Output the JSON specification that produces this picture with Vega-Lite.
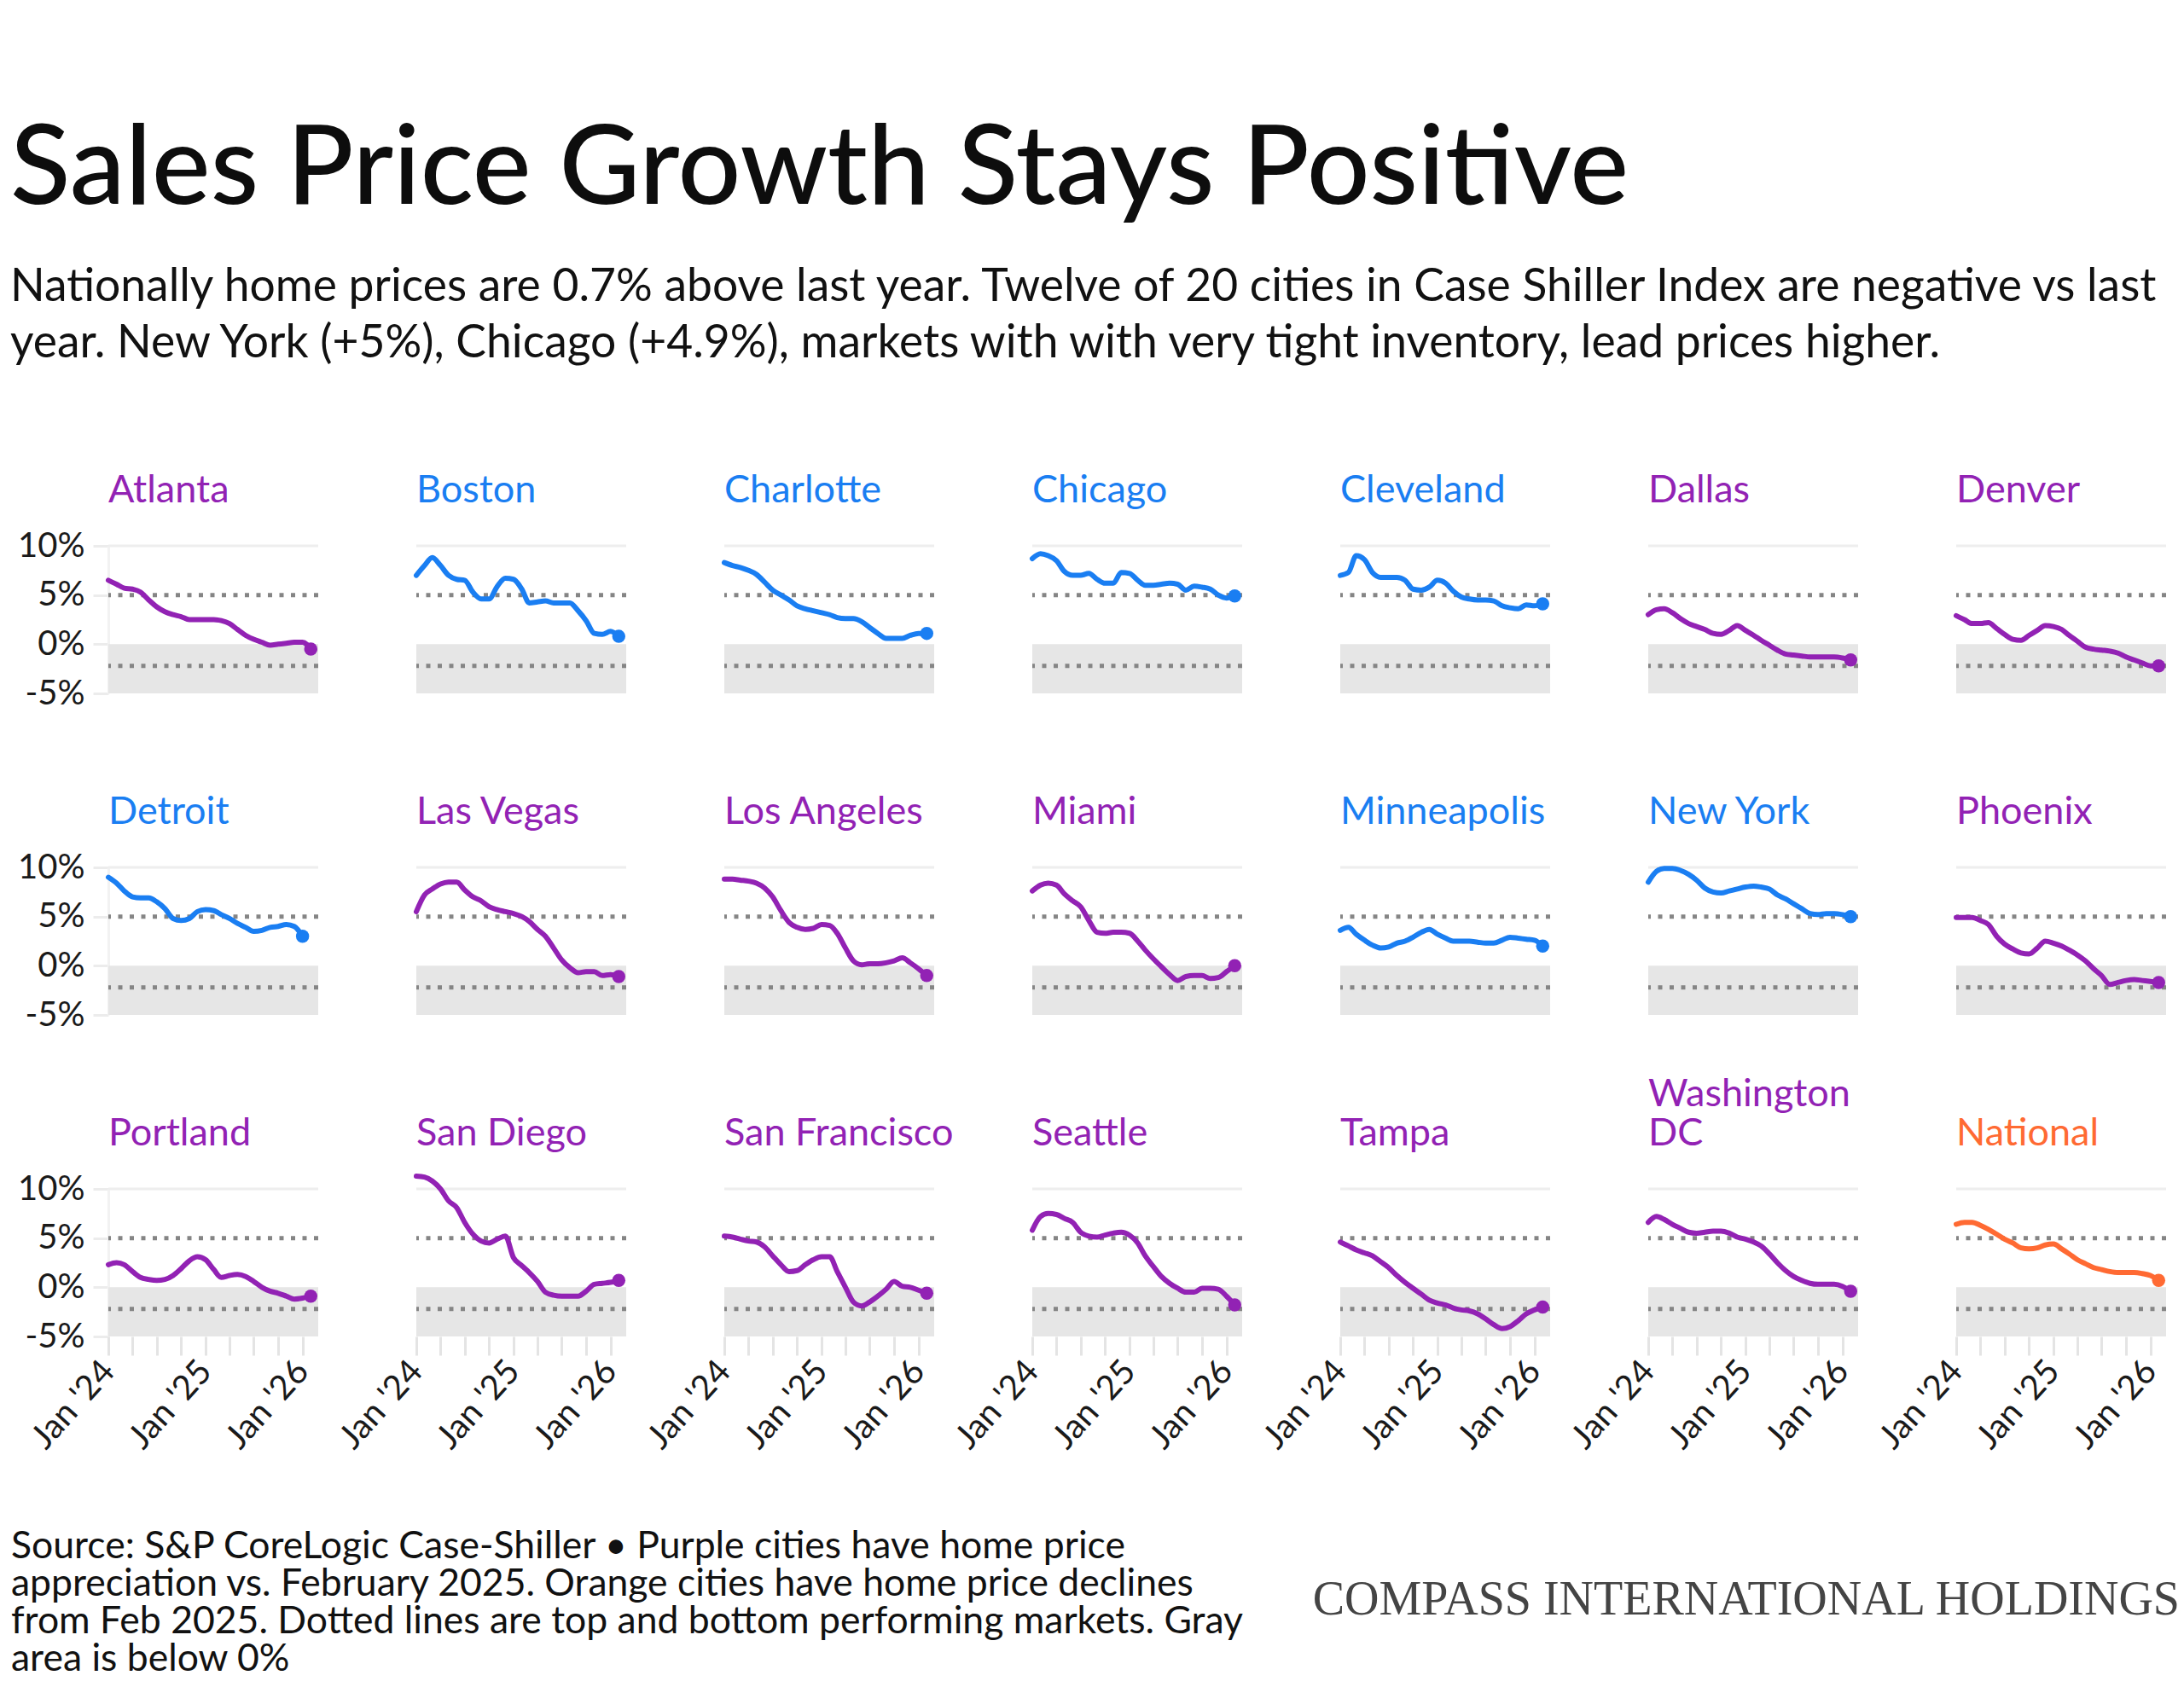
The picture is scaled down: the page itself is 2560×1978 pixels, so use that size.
{
  "$schema": "https://vega.github.io/schema/vega-lite/v6.json",
  "background": "white",
  "autosize": {"type": "pad"},
  "padding": {"left": 12, "top": 135, "right": 0, "bottom": 0},
  "title": {
    "text": "Sales Price Growth Stays Positive",
    "subtitle": [
      "Nationally home prices are 0.7% above last year. Twelve of 20 cities in Case Shiller Index are negative vs last",
      "year. New York (+5%), Chicago (+4.9%), markets with with very tight inventory, lead prices higher."
    ],
    "anchor": "start",
    "frame": "bounds",
    "dx": -1,
    "font": "Lato",
    "fontSize": 130,
    "fontWeight": 500,
    "color": "#0d0d0d",
    "subtitleFont": "Lato",
    "subtitleFontSize": 53.4,
    "subtitleColor": "#111111",
    "subtitleLineHeight": 66,
    "subtitlePadding": 45,
    "offset": 122
  },
  "datasets": {
    "cities": [
      {"city": "Atlanta", "label": "Atlanta", "status": "Cooling"},
      {"city": "Boston", "label": "Boston", "status": "Gaining"},
      {"city": "Charlotte", "label": "Charlotte", "status": "Gaining"},
      {"city": "Chicago", "label": "Chicago", "status": "Gaining"},
      {"city": "Cleveland", "label": "Cleveland", "status": "Gaining"},
      {"city": "Dallas", "label": "Dallas", "status": "Cooling"},
      {"city": "Denver", "label": "Denver", "status": "Cooling"},
      {"city": "Detroit", "label": "Detroit", "status": "Gaining"},
      {"city": "Las Vegas", "label": "Las Vegas", "status": "Cooling"},
      {"city": "Los Angeles", "label": "Los Angeles", "status": "Cooling"},
      {"city": "Miami", "label": "Miami", "status": "Cooling"},
      {"city": "Minneapolis", "label": "Minneapolis", "status": "Gaining"},
      {"city": "New York", "label": "New York", "status": "Gaining"},
      {"city": "Phoenix", "label": "Phoenix", "status": "Cooling"},
      {"city": "Portland", "label": "Portland", "status": "Cooling"},
      {"city": "San Diego", "label": "San Diego", "status": "Cooling"},
      {"city": "San Francisco", "label": "San Francisco", "status": "Cooling"},
      {"city": "Seattle", "label": "Seattle", "status": "Cooling"},
      {"city": "Tampa", "label": "Tampa", "status": "Cooling"},
      {"city": "Washington DC", "label": "Washington\nDC", "status": "Cooling"},
      {"city": "National", "label": "National", "status": "National"}
    ],
    "series": [
      {"city":"Atlanta","date":"2024-01-01","yoy":6.5},{"city":"Atlanta","date":"2024-02-01","yoy":6.1},{"city":"Atlanta","date":"2024-03-01","yoy":5.7},{"city":"Atlanta","date":"2024-04-01","yoy":5.6},{"city":"Atlanta","date":"2024-05-01","yoy":5.3},{"city":"Atlanta","date":"2024-06-01","yoy":4.5},{"city":"Atlanta","date":"2024-07-01","yoy":3.8},{"city":"Atlanta","date":"2024-08-01","yoy":3.3},{"city":"Atlanta","date":"2024-09-01","yoy":3.0},{"city":"Atlanta","date":"2024-10-01","yoy":2.8},{"city":"Atlanta","date":"2024-11-01","yoy":2.5},{"city":"Atlanta","date":"2024-12-01","yoy":2.5},{"city":"Atlanta","date":"2025-01-01","yoy":2.5},{"city":"Atlanta","date":"2025-02-01","yoy":2.5},{"city":"Atlanta","date":"2025-03-01","yoy":2.4},{"city":"Atlanta","date":"2025-04-01","yoy":2.1},{"city":"Atlanta","date":"2025-05-01","yoy":1.5},{"city":"Atlanta","date":"2025-06-01","yoy":0.9},{"city":"Atlanta","date":"2025-07-01","yoy":0.5},{"city":"Atlanta","date":"2025-08-01","yoy":0.2},{"city":"Atlanta","date":"2025-09-01","yoy":-0.1},{"city":"Atlanta","date":"2025-10-01","yoy":0.0},{"city":"Atlanta","date":"2025-11-01","yoy":0.1},{"city":"Atlanta","date":"2025-12-01","yoy":0.2},{"city":"Atlanta","date":"2026-01-01","yoy":0.2},{"city":"Atlanta","date":"2026-02-01","yoy":-0.5},
      {"city":"Boston","date":"2024-01-01","yoy":7.0},{"city":"Boston","date":"2024-02-01","yoy":8.0},{"city":"Boston","date":"2024-03-01","yoy":8.8},{"city":"Boston","date":"2024-04-01","yoy":8.0},{"city":"Boston","date":"2024-05-01","yoy":7.0},{"city":"Boston","date":"2024-06-01","yoy":6.6},{"city":"Boston","date":"2024-07-01","yoy":6.5},{"city":"Boston","date":"2024-08-01","yoy":5.3},{"city":"Boston","date":"2024-09-01","yoy":4.6},{"city":"Boston","date":"2024-10-01","yoy":4.6},{"city":"Boston","date":"2024-11-01","yoy":5.9},{"city":"Boston","date":"2024-12-01","yoy":6.7},{"city":"Boston","date":"2025-01-01","yoy":6.6},{"city":"Boston","date":"2025-02-01","yoy":5.6},{"city":"Boston","date":"2025-03-01","yoy":4.2},{"city":"Boston","date":"2025-04-01","yoy":4.3},{"city":"Boston","date":"2025-05-01","yoy":4.4},{"city":"Boston","date":"2025-06-01","yoy":4.2},{"city":"Boston","date":"2025-07-01","yoy":4.2},{"city":"Boston","date":"2025-08-01","yoy":4.2},{"city":"Boston","date":"2025-09-01","yoy":3.4},{"city":"Boston","date":"2025-10-01","yoy":2.4},{"city":"Boston","date":"2025-11-01","yoy":1.1},{"city":"Boston","date":"2025-12-01","yoy":1.0},{"city":"Boston","date":"2026-01-01","yoy":1.3},{"city":"Boston","date":"2026-02-01","yoy":0.8},
      {"city":"Charlotte","date":"2024-01-01","yoy":8.3},{"city":"Charlotte","date":"2024-02-01","yoy":8.0},{"city":"Charlotte","date":"2024-03-01","yoy":7.8},{"city":"Charlotte","date":"2024-04-01","yoy":7.5},{"city":"Charlotte","date":"2024-05-01","yoy":7.1},{"city":"Charlotte","date":"2024-06-01","yoy":6.3},{"city":"Charlotte","date":"2024-07-01","yoy":5.5},{"city":"Charlotte","date":"2024-08-01","yoy":5.0},{"city":"Charlotte","date":"2024-09-01","yoy":4.5},{"city":"Charlotte","date":"2024-10-01","yoy":3.9},{"city":"Charlotte","date":"2024-11-01","yoy":3.6},{"city":"Charlotte","date":"2024-12-01","yoy":3.4},{"city":"Charlotte","date":"2025-01-01","yoy":3.2},{"city":"Charlotte","date":"2025-02-01","yoy":3.0},{"city":"Charlotte","date":"2025-03-01","yoy":2.7},{"city":"Charlotte","date":"2025-04-01","yoy":2.6},{"city":"Charlotte","date":"2025-05-01","yoy":2.6},{"city":"Charlotte","date":"2025-06-01","yoy":2.3},{"city":"Charlotte","date":"2025-07-01","yoy":1.7},{"city":"Charlotte","date":"2025-08-01","yoy":1.1},{"city":"Charlotte","date":"2025-09-01","yoy":0.6},{"city":"Charlotte","date":"2025-10-01","yoy":0.6},{"city":"Charlotte","date":"2025-11-01","yoy":0.6},{"city":"Charlotte","date":"2025-12-01","yoy":0.9},{"city":"Charlotte","date":"2026-01-01","yoy":1.1},{"city":"Charlotte","date":"2026-02-01","yoy":1.1},
      {"city":"Chicago","date":"2024-01-01","yoy":8.7},{"city":"Chicago","date":"2024-02-01","yoy":9.2},{"city":"Chicago","date":"2024-03-01","yoy":9.0},{"city":"Chicago","date":"2024-04-01","yoy":8.5},{"city":"Chicago","date":"2024-05-01","yoy":7.4},{"city":"Chicago","date":"2024-06-01","yoy":7.0},{"city":"Chicago","date":"2024-07-01","yoy":7.0},{"city":"Chicago","date":"2024-08-01","yoy":7.2},{"city":"Chicago","date":"2024-09-01","yoy":6.6},{"city":"Chicago","date":"2024-10-01","yoy":6.2},{"city":"Chicago","date":"2024-11-01","yoy":6.2},{"city":"Chicago","date":"2024-12-01","yoy":7.3},{"city":"Chicago","date":"2025-01-01","yoy":7.2},{"city":"Chicago","date":"2025-02-01","yoy":6.5},{"city":"Chicago","date":"2025-03-01","yoy":6.0},{"city":"Chicago","date":"2025-04-01","yoy":6.0},{"city":"Chicago","date":"2025-05-01","yoy":6.1},{"city":"Chicago","date":"2025-06-01","yoy":6.2},{"city":"Chicago","date":"2025-07-01","yoy":6.1},{"city":"Chicago","date":"2025-08-01","yoy":5.5},{"city":"Chicago","date":"2025-09-01","yoy":5.9},{"city":"Chicago","date":"2025-10-01","yoy":5.8},{"city":"Chicago","date":"2025-11-01","yoy":5.6},{"city":"Chicago","date":"2025-12-01","yoy":5.0},{"city":"Chicago","date":"2026-01-01","yoy":4.7},{"city":"Chicago","date":"2026-02-01","yoy":4.9},
      {"city":"Cleveland","date":"2024-01-01","yoy":7.0},{"city":"Cleveland","date":"2024-02-01","yoy":7.3},{"city":"Cleveland","date":"2024-03-01","yoy":9.0},{"city":"Cleveland","date":"2024-04-01","yoy":8.6},{"city":"Cleveland","date":"2024-05-01","yoy":7.3},{"city":"Cleveland","date":"2024-06-01","yoy":6.8},{"city":"Cleveland","date":"2024-07-01","yoy":6.8},{"city":"Cleveland","date":"2024-08-01","yoy":6.8},{"city":"Cleveland","date":"2024-09-01","yoy":6.5},{"city":"Cleveland","date":"2024-10-01","yoy":5.6},{"city":"Cleveland","date":"2024-11-01","yoy":5.5},{"city":"Cleveland","date":"2024-12-01","yoy":5.8},{"city":"Cleveland","date":"2025-01-01","yoy":6.5},{"city":"Cleveland","date":"2025-02-01","yoy":6.2},{"city":"Cleveland","date":"2025-03-01","yoy":5.4},{"city":"Cleveland","date":"2025-04-01","yoy":4.8},{"city":"Cleveland","date":"2025-05-01","yoy":4.6},{"city":"Cleveland","date":"2025-06-01","yoy":4.5},{"city":"Cleveland","date":"2025-07-01","yoy":4.5},{"city":"Cleveland","date":"2025-08-01","yoy":4.4},{"city":"Cleveland","date":"2025-09-01","yoy":3.9},{"city":"Cleveland","date":"2025-10-01","yoy":3.7},{"city":"Cleveland","date":"2025-11-01","yoy":3.6},{"city":"Cleveland","date":"2025-12-01","yoy":4.0},{"city":"Cleveland","date":"2026-01-01","yoy":3.9},{"city":"Cleveland","date":"2026-02-01","yoy":4.1},
      {"city":"Dallas","date":"2024-01-01","yoy":3.0},{"city":"Dallas","date":"2024-02-01","yoy":3.5},{"city":"Dallas","date":"2024-03-01","yoy":3.6},{"city":"Dallas","date":"2024-04-01","yoy":3.2},{"city":"Dallas","date":"2024-05-01","yoy":2.6},{"city":"Dallas","date":"2024-06-01","yoy":2.1},{"city":"Dallas","date":"2024-07-01","yoy":1.8},{"city":"Dallas","date":"2024-08-01","yoy":1.5},{"city":"Dallas","date":"2024-09-01","yoy":1.1},{"city":"Dallas","date":"2024-10-01","yoy":1.0},{"city":"Dallas","date":"2024-11-01","yoy":1.4},{"city":"Dallas","date":"2024-12-01","yoy":1.9},{"city":"Dallas","date":"2025-01-01","yoy":1.4},{"city":"Dallas","date":"2025-02-01","yoy":0.9},{"city":"Dallas","date":"2025-03-01","yoy":0.4},{"city":"Dallas","date":"2025-04-01","yoy":-0.1},{"city":"Dallas","date":"2025-05-01","yoy":-0.6},{"city":"Dallas","date":"2025-06-01","yoy":-1.0},{"city":"Dallas","date":"2025-07-01","yoy":-1.1},{"city":"Dallas","date":"2025-08-01","yoy":-1.2},{"city":"Dallas","date":"2025-09-01","yoy":-1.3},{"city":"Dallas","date":"2025-10-01","yoy":-1.3},{"city":"Dallas","date":"2025-11-01","yoy":-1.3},{"city":"Dallas","date":"2025-12-01","yoy":-1.3},{"city":"Dallas","date":"2026-01-01","yoy":-1.4},{"city":"Dallas","date":"2026-02-01","yoy":-1.6},
      {"city":"Denver","date":"2024-01-01","yoy":2.9},{"city":"Denver","date":"2024-02-01","yoy":2.5},{"city":"Denver","date":"2024-03-01","yoy":2.1},{"city":"Denver","date":"2024-04-01","yoy":2.1},{"city":"Denver","date":"2024-05-01","yoy":2.2},{"city":"Denver","date":"2024-06-01","yoy":1.6},{"city":"Denver","date":"2024-07-01","yoy":1.0},{"city":"Denver","date":"2024-08-01","yoy":0.5},{"city":"Denver","date":"2024-09-01","yoy":0.4},{"city":"Denver","date":"2024-10-01","yoy":0.9},{"city":"Denver","date":"2024-11-01","yoy":1.4},{"city":"Denver","date":"2024-12-01","yoy":1.9},{"city":"Denver","date":"2025-01-01","yoy":1.8},{"city":"Denver","date":"2025-02-01","yoy":1.5},{"city":"Denver","date":"2025-03-01","yoy":0.9},{"city":"Denver","date":"2025-04-01","yoy":0.3},{"city":"Denver","date":"2025-05-01","yoy":-0.3},{"city":"Denver","date":"2025-06-01","yoy":-0.5},{"city":"Denver","date":"2025-07-01","yoy":-0.6},{"city":"Denver","date":"2025-08-01","yoy":-0.7},{"city":"Denver","date":"2025-09-01","yoy":-0.9},{"city":"Denver","date":"2025-10-01","yoy":-1.3},{"city":"Denver","date":"2025-11-01","yoy":-1.6},{"city":"Denver","date":"2025-12-01","yoy":-1.9},{"city":"Denver","date":"2026-01-01","yoy":-2.2},{"city":"Denver","date":"2026-02-01","yoy":-2.2},
      {"city":"Detroit","date":"2024-01-01","yoy":9.0},{"city":"Detroit","date":"2024-02-01","yoy":8.4},{"city":"Detroit","date":"2024-03-01","yoy":7.6},{"city":"Detroit","date":"2024-04-01","yoy":7.0},{"city":"Detroit","date":"2024-05-01","yoy":6.9},{"city":"Detroit","date":"2024-06-01","yoy":6.9},{"city":"Detroit","date":"2024-07-01","yoy":6.5},{"city":"Detroit","date":"2024-08-01","yoy":5.8},{"city":"Detroit","date":"2024-09-01","yoy":4.8},{"city":"Detroit","date":"2024-10-01","yoy":4.6},{"city":"Detroit","date":"2024-11-01","yoy":4.8},{"city":"Detroit","date":"2024-12-01","yoy":5.5},{"city":"Detroit","date":"2025-01-01","yoy":5.7},{"city":"Detroit","date":"2025-02-01","yoy":5.6},{"city":"Detroit","date":"2025-03-01","yoy":5.2},{"city":"Detroit","date":"2025-04-01","yoy":4.8},{"city":"Detroit","date":"2025-05-01","yoy":4.3},{"city":"Detroit","date":"2025-06-01","yoy":3.9},{"city":"Detroit","date":"2025-07-01","yoy":3.5},{"city":"Detroit","date":"2025-08-01","yoy":3.6},{"city":"Detroit","date":"2025-09-01","yoy":3.9},{"city":"Detroit","date":"2025-10-01","yoy":4.0},{"city":"Detroit","date":"2025-11-01","yoy":4.2},{"city":"Detroit","date":"2025-12-01","yoy":4.0},{"city":"Detroit","date":"2026-01-01","yoy":3.0},
      {"city":"Las Vegas","date":"2024-01-01","yoy":5.5},{"city":"Las Vegas","date":"2024-02-01","yoy":7.2},{"city":"Las Vegas","date":"2024-03-01","yoy":7.8},{"city":"Las Vegas","date":"2024-04-01","yoy":8.3},{"city":"Las Vegas","date":"2024-05-01","yoy":8.5},{"city":"Las Vegas","date":"2024-06-01","yoy":8.5},{"city":"Las Vegas","date":"2024-07-01","yoy":7.7},{"city":"Las Vegas","date":"2024-08-01","yoy":7.0},{"city":"Las Vegas","date":"2024-09-01","yoy":6.6},{"city":"Las Vegas","date":"2024-10-01","yoy":6.0},{"city":"Las Vegas","date":"2024-11-01","yoy":5.7},{"city":"Las Vegas","date":"2024-12-01","yoy":5.5},{"city":"Las Vegas","date":"2025-01-01","yoy":5.3},{"city":"Las Vegas","date":"2025-02-01","yoy":5.0},{"city":"Las Vegas","date":"2025-03-01","yoy":4.5},{"city":"Las Vegas","date":"2025-04-01","yoy":3.7},{"city":"Las Vegas","date":"2025-05-01","yoy":3.0},{"city":"Las Vegas","date":"2025-06-01","yoy":1.8},{"city":"Las Vegas","date":"2025-07-01","yoy":0.6},{"city":"Las Vegas","date":"2025-08-01","yoy":-0.2},{"city":"Las Vegas","date":"2025-09-01","yoy":-0.7},{"city":"Las Vegas","date":"2025-10-01","yoy":-0.6},{"city":"Las Vegas","date":"2025-11-01","yoy":-0.6},{"city":"Las Vegas","date":"2025-12-01","yoy":-1.0},{"city":"Las Vegas","date":"2026-01-01","yoy":-0.9},{"city":"Las Vegas","date":"2026-02-01","yoy":-1.1},
      {"city":"Los Angeles","date":"2024-01-01","yoy":8.8},{"city":"Los Angeles","date":"2024-02-01","yoy":8.8},{"city":"Los Angeles","date":"2024-03-01","yoy":8.7},{"city":"Los Angeles","date":"2024-04-01","yoy":8.6},{"city":"Los Angeles","date":"2024-05-01","yoy":8.4},{"city":"Los Angeles","date":"2024-06-01","yoy":7.9},{"city":"Los Angeles","date":"2024-07-01","yoy":7.0},{"city":"Los Angeles","date":"2024-08-01","yoy":5.6},{"city":"Los Angeles","date":"2024-09-01","yoy":4.4},{"city":"Los Angeles","date":"2024-10-01","yoy":3.9},{"city":"Los Angeles","date":"2024-11-01","yoy":3.7},{"city":"Los Angeles","date":"2024-12-01","yoy":3.8},{"city":"Los Angeles","date":"2025-01-01","yoy":4.2},{"city":"Los Angeles","date":"2025-02-01","yoy":4.1},{"city":"Los Angeles","date":"2025-03-01","yoy":3.3},{"city":"Los Angeles","date":"2025-04-01","yoy":1.8},{"city":"Los Angeles","date":"2025-05-01","yoy":0.5},{"city":"Los Angeles","date":"2025-06-01","yoy":0.1},{"city":"Los Angeles","date":"2025-07-01","yoy":0.2},{"city":"Los Angeles","date":"2025-08-01","yoy":0.2},{"city":"Los Angeles","date":"2025-09-01","yoy":0.3},{"city":"Los Angeles","date":"2025-10-01","yoy":0.5},{"city":"Los Angeles","date":"2025-11-01","yoy":0.8},{"city":"Los Angeles","date":"2025-12-01","yoy":0.3},{"city":"Los Angeles","date":"2026-01-01","yoy":-0.3},{"city":"Los Angeles","date":"2026-02-01","yoy":-1.0},
      {"city":"Miami","date":"2024-01-01","yoy":7.6},{"city":"Miami","date":"2024-02-01","yoy":8.2},{"city":"Miami","date":"2024-03-01","yoy":8.4},{"city":"Miami","date":"2024-04-01","yoy":8.2},{"city":"Miami","date":"2024-05-01","yoy":7.3},{"city":"Miami","date":"2024-06-01","yoy":6.6},{"city":"Miami","date":"2024-07-01","yoy":6.0},{"city":"Miami","date":"2024-08-01","yoy":4.6},{"city":"Miami","date":"2024-09-01","yoy":3.4},{"city":"Miami","date":"2024-10-01","yoy":3.3},{"city":"Miami","date":"2024-11-01","yoy":3.4},{"city":"Miami","date":"2024-12-01","yoy":3.4},{"city":"Miami","date":"2025-01-01","yoy":3.3},{"city":"Miami","date":"2025-02-01","yoy":2.5},{"city":"Miami","date":"2025-03-01","yoy":1.6},{"city":"Miami","date":"2025-04-01","yoy":0.7},{"city":"Miami","date":"2025-05-01","yoy":-0.1},{"city":"Miami","date":"2025-06-01","yoy":-0.9},{"city":"Miami","date":"2025-07-01","yoy":-1.5},{"city":"Miami","date":"2025-08-01","yoy":-1.1},{"city":"Miami","date":"2025-09-01","yoy":-1.0},{"city":"Miami","date":"2025-10-01","yoy":-1.0},{"city":"Miami","date":"2025-11-01","yoy":-1.3},{"city":"Miami","date":"2025-12-01","yoy":-1.2},{"city":"Miami","date":"2026-01-01","yoy":-0.6},{"city":"Miami","date":"2026-02-01","yoy":0.0},
      {"city":"Minneapolis","date":"2024-01-01","yoy":3.6},{"city":"Minneapolis","date":"2024-02-01","yoy":3.9},{"city":"Minneapolis","date":"2024-03-01","yoy":3.2},{"city":"Minneapolis","date":"2024-04-01","yoy":2.6},{"city":"Minneapolis","date":"2024-05-01","yoy":2.1},{"city":"Minneapolis","date":"2024-06-01","yoy":1.8},{"city":"Minneapolis","date":"2024-07-01","yoy":1.9},{"city":"Minneapolis","date":"2024-08-01","yoy":2.3},{"city":"Minneapolis","date":"2024-09-01","yoy":2.5},{"city":"Minneapolis","date":"2024-10-01","yoy":2.9},{"city":"Minneapolis","date":"2024-11-01","yoy":3.4},{"city":"Minneapolis","date":"2024-12-01","yoy":3.7},{"city":"Minneapolis","date":"2025-01-01","yoy":3.2},{"city":"Minneapolis","date":"2025-02-01","yoy":2.8},{"city":"Minneapolis","date":"2025-03-01","yoy":2.5},{"city":"Minneapolis","date":"2025-04-01","yoy":2.5},{"city":"Minneapolis","date":"2025-05-01","yoy":2.5},{"city":"Minneapolis","date":"2025-06-01","yoy":2.4},{"city":"Minneapolis","date":"2025-07-01","yoy":2.3},{"city":"Minneapolis","date":"2025-08-01","yoy":2.3},{"city":"Minneapolis","date":"2025-09-01","yoy":2.6},{"city":"Minneapolis","date":"2025-10-01","yoy":2.9},{"city":"Minneapolis","date":"2025-11-01","yoy":2.8},{"city":"Minneapolis","date":"2025-12-01","yoy":2.7},{"city":"Minneapolis","date":"2026-01-01","yoy":2.6},{"city":"Minneapolis","date":"2026-02-01","yoy":2.0},
      {"city":"New York","date":"2024-01-01","yoy":8.5},{"city":"New York","date":"2024-02-01","yoy":9.6},{"city":"New York","date":"2024-03-01","yoy":9.9},{"city":"New York","date":"2024-04-01","yoy":9.9},{"city":"New York","date":"2024-05-01","yoy":9.7},{"city":"New York","date":"2024-06-01","yoy":9.3},{"city":"New York","date":"2024-07-01","yoy":8.7},{"city":"New York","date":"2024-08-01","yoy":7.9},{"city":"New York","date":"2024-09-01","yoy":7.5},{"city":"New York","date":"2024-10-01","yoy":7.4},{"city":"New York","date":"2024-11-01","yoy":7.6},{"city":"New York","date":"2024-12-01","yoy":7.8},{"city":"New York","date":"2025-01-01","yoy":8.0},{"city":"New York","date":"2025-02-01","yoy":8.1},{"city":"New York","date":"2025-03-01","yoy":8.0},{"city":"New York","date":"2025-04-01","yoy":7.8},{"city":"New York","date":"2025-05-01","yoy":7.2},{"city":"New York","date":"2025-06-01","yoy":6.8},{"city":"New York","date":"2025-07-01","yoy":6.3},{"city":"New York","date":"2025-08-01","yoy":5.8},{"city":"New York","date":"2025-09-01","yoy":5.3},{"city":"New York","date":"2025-10-01","yoy":5.2},{"city":"New York","date":"2025-11-01","yoy":5.3},{"city":"New York","date":"2025-12-01","yoy":5.3},{"city":"New York","date":"2026-01-01","yoy":5.2},{"city":"New York","date":"2026-02-01","yoy":5.0},
      {"city":"Phoenix","date":"2024-01-01","yoy":4.9},{"city":"Phoenix","date":"2024-02-01","yoy":4.9},{"city":"Phoenix","date":"2024-03-01","yoy":4.9},{"city":"Phoenix","date":"2024-04-01","yoy":4.6},{"city":"Phoenix","date":"2024-05-01","yoy":4.2},{"city":"Phoenix","date":"2024-06-01","yoy":3.0},{"city":"Phoenix","date":"2024-07-01","yoy":2.2},{"city":"Phoenix","date":"2024-08-01","yoy":1.7},{"city":"Phoenix","date":"2024-09-01","yoy":1.3},{"city":"Phoenix","date":"2024-10-01","yoy":1.2},{"city":"Phoenix","date":"2024-11-01","yoy":1.8},{"city":"Phoenix","date":"2024-12-01","yoy":2.5},{"city":"Phoenix","date":"2025-01-01","yoy":2.3},{"city":"Phoenix","date":"2025-02-01","yoy":2.0},{"city":"Phoenix","date":"2025-03-01","yoy":1.6},{"city":"Phoenix","date":"2025-04-01","yoy":1.1},{"city":"Phoenix","date":"2025-05-01","yoy":0.5},{"city":"Phoenix","date":"2025-06-01","yoy":-0.3},{"city":"Phoenix","date":"2025-07-01","yoy":-1.0},{"city":"Phoenix","date":"2025-08-01","yoy":-1.9},{"city":"Phoenix","date":"2025-09-01","yoy":-1.7},{"city":"Phoenix","date":"2025-10-01","yoy":-1.5},{"city":"Phoenix","date":"2025-11-01","yoy":-1.4},{"city":"Phoenix","date":"2025-12-01","yoy":-1.5},{"city":"Phoenix","date":"2026-01-01","yoy":-1.6},{"city":"Phoenix","date":"2026-02-01","yoy":-1.7},
      {"city":"Portland","date":"2024-01-01","yoy":2.3},{"city":"Portland","date":"2024-02-01","yoy":2.5},{"city":"Portland","date":"2024-03-01","yoy":2.3},{"city":"Portland","date":"2024-04-01","yoy":1.6},{"city":"Portland","date":"2024-05-01","yoy":1.0},{"city":"Portland","date":"2024-06-01","yoy":0.8},{"city":"Portland","date":"2024-07-01","yoy":0.7},{"city":"Portland","date":"2024-08-01","yoy":0.8},{"city":"Portland","date":"2024-09-01","yoy":1.2},{"city":"Portland","date":"2024-10-01","yoy":1.9},{"city":"Portland","date":"2024-11-01","yoy":2.7},{"city":"Portland","date":"2024-12-01","yoy":3.1},{"city":"Portland","date":"2025-01-01","yoy":2.8},{"city":"Portland","date":"2025-02-01","yoy":1.8},{"city":"Portland","date":"2025-03-01","yoy":1.0},{"city":"Portland","date":"2025-04-01","yoy":1.2},{"city":"Portland","date":"2025-05-01","yoy":1.3},{"city":"Portland","date":"2025-06-01","yoy":1.1},{"city":"Portland","date":"2025-07-01","yoy":0.6},{"city":"Portland","date":"2025-08-01","yoy":0.0},{"city":"Portland","date":"2025-09-01","yoy":-0.4},{"city":"Portland","date":"2025-10-01","yoy":-0.6},{"city":"Portland","date":"2025-11-01","yoy":-0.9},{"city":"Portland","date":"2025-12-01","yoy":-1.2},{"city":"Portland","date":"2026-01-01","yoy":-1.1},{"city":"Portland","date":"2026-02-01","yoy":-0.9},
      {"city":"San Diego","date":"2024-01-01","yoy":11.3},{"city":"San Diego","date":"2024-02-01","yoy":11.2},{"city":"San Diego","date":"2024-03-01","yoy":10.8},{"city":"San Diego","date":"2024-04-01","yoy":10.0},{"city":"San Diego","date":"2024-05-01","yoy":8.8},{"city":"San Diego","date":"2024-06-01","yoy":8.1},{"city":"San Diego","date":"2024-07-01","yoy":6.6},{"city":"San Diego","date":"2024-08-01","yoy":5.4},{"city":"San Diego","date":"2024-09-01","yoy":4.7},{"city":"San Diego","date":"2024-10-01","yoy":4.5},{"city":"San Diego","date":"2024-11-01","yoy":4.9},{"city":"San Diego","date":"2024-12-01","yoy":5.2},{"city":"San Diego","date":"2025-01-01","yoy":3.0},{"city":"San Diego","date":"2025-02-01","yoy":2.2},{"city":"San Diego","date":"2025-03-01","yoy":1.5},{"city":"San Diego","date":"2025-04-01","yoy":0.6},{"city":"San Diego","date":"2025-05-01","yoy":-0.5},{"city":"San Diego","date":"2025-06-01","yoy":-0.8},{"city":"San Diego","date":"2025-07-01","yoy":-0.9},{"city":"San Diego","date":"2025-08-01","yoy":-0.9},{"city":"San Diego","date":"2025-09-01","yoy":-0.9},{"city":"San Diego","date":"2025-10-01","yoy":-0.4},{"city":"San Diego","date":"2025-11-01","yoy":0.3},{"city":"San Diego","date":"2025-12-01","yoy":0.4},{"city":"San Diego","date":"2026-01-01","yoy":0.5},{"city":"San Diego","date":"2026-02-01","yoy":0.7},
      {"city":"San Francisco","date":"2024-01-01","yoy":5.2},{"city":"San Francisco","date":"2024-02-01","yoy":5.1},{"city":"San Francisco","date":"2024-03-01","yoy":4.9},{"city":"San Francisco","date":"2024-04-01","yoy":4.7},{"city":"San Francisco","date":"2024-05-01","yoy":4.6},{"city":"San Francisco","date":"2024-06-01","yoy":4.1},{"city":"San Francisco","date":"2024-07-01","yoy":3.2},{"city":"San Francisco","date":"2024-08-01","yoy":2.3},{"city":"San Francisco","date":"2024-09-01","yoy":1.6},{"city":"San Francisco","date":"2024-10-01","yoy":1.7},{"city":"San Francisco","date":"2024-11-01","yoy":2.3},{"city":"San Francisco","date":"2024-12-01","yoy":2.8},{"city":"San Francisco","date":"2025-01-01","yoy":3.1},{"city":"San Francisco","date":"2025-02-01","yoy":3.1},{"city":"San Francisco","date":"2025-03-01","yoy":1.6},{"city":"San Francisco","date":"2025-04-01","yoy":0.0},{"city":"San Francisco","date":"2025-05-01","yoy":-1.5},{"city":"San Francisco","date":"2025-06-01","yoy":-1.9},{"city":"San Francisco","date":"2025-07-01","yoy":-1.5},{"city":"San Francisco","date":"2025-08-01","yoy":-0.9},{"city":"San Francisco","date":"2025-09-01","yoy":-0.2},{"city":"San Francisco","date":"2025-10-01","yoy":0.6},{"city":"San Francisco","date":"2025-11-01","yoy":0.1},{"city":"San Francisco","date":"2025-12-01","yoy":0.0},{"city":"San Francisco","date":"2026-01-01","yoy":-0.3},{"city":"San Francisco","date":"2026-02-01","yoy":-0.6},
      {"city":"Seattle","date":"2024-01-01","yoy":5.8},{"city":"Seattle","date":"2024-02-01","yoy":7.2},{"city":"Seattle","date":"2024-03-01","yoy":7.5},{"city":"Seattle","date":"2024-04-01","yoy":7.4},{"city":"Seattle","date":"2024-05-01","yoy":7.0},{"city":"Seattle","date":"2024-06-01","yoy":6.6},{"city":"Seattle","date":"2024-07-01","yoy":5.6},{"city":"Seattle","date":"2024-08-01","yoy":5.2},{"city":"Seattle","date":"2024-09-01","yoy":5.1},{"city":"Seattle","date":"2024-10-01","yoy":5.3},{"city":"Seattle","date":"2024-11-01","yoy":5.5},{"city":"Seattle","date":"2024-12-01","yoy":5.6},{"city":"Seattle","date":"2025-01-01","yoy":5.3},{"city":"Seattle","date":"2025-02-01","yoy":4.5},{"city":"Seattle","date":"2025-03-01","yoy":3.2},{"city":"Seattle","date":"2025-04-01","yoy":2.1},{"city":"Seattle","date":"2025-05-01","yoy":1.1},{"city":"Seattle","date":"2025-06-01","yoy":0.4},{"city":"Seattle","date":"2025-07-01","yoy":-0.1},{"city":"Seattle","date":"2025-08-01","yoy":-0.5},{"city":"Seattle","date":"2025-09-01","yoy":-0.5},{"city":"Seattle","date":"2025-10-01","yoy":-0.1},{"city":"Seattle","date":"2025-11-01","yoy":-0.1},{"city":"Seattle","date":"2025-12-01","yoy":-0.2},{"city":"Seattle","date":"2026-01-01","yoy":-0.9},{"city":"Seattle","date":"2026-02-01","yoy":-1.8},
      {"city":"Tampa","date":"2024-01-01","yoy":4.6},{"city":"Tampa","date":"2024-02-01","yoy":4.2},{"city":"Tampa","date":"2024-03-01","yoy":3.8},{"city":"Tampa","date":"2024-04-01","yoy":3.5},{"city":"Tampa","date":"2024-05-01","yoy":3.2},{"city":"Tampa","date":"2024-06-01","yoy":2.6},{"city":"Tampa","date":"2024-07-01","yoy":2.0},{"city":"Tampa","date":"2024-08-01","yoy":1.2},{"city":"Tampa","date":"2024-09-01","yoy":0.5},{"city":"Tampa","date":"2024-10-01","yoy":-0.1},{"city":"Tampa","date":"2024-11-01","yoy":-0.7},{"city":"Tampa","date":"2024-12-01","yoy":-1.3},{"city":"Tampa","date":"2025-01-01","yoy":-1.6},{"city":"Tampa","date":"2025-02-01","yoy":-1.8},{"city":"Tampa","date":"2025-03-01","yoy":-2.1},{"city":"Tampa","date":"2025-04-01","yoy":-2.3},{"city":"Tampa","date":"2025-05-01","yoy":-2.4},{"city":"Tampa","date":"2025-06-01","yoy":-2.7},{"city":"Tampa","date":"2025-07-01","yoy":-3.2},{"city":"Tampa","date":"2025-08-01","yoy":-3.8},{"city":"Tampa","date":"2025-09-01","yoy":-4.2},{"city":"Tampa","date":"2025-10-01","yoy":-4.0},{"city":"Tampa","date":"2025-11-01","yoy":-3.4},{"city":"Tampa","date":"2025-12-01","yoy":-2.7},{"city":"Tampa","date":"2026-01-01","yoy":-2.3},{"city":"Tampa","date":"2026-02-01","yoy":-2.0},
      {"city":"Washington DC","date":"2024-01-01","yoy":6.6},{"city":"Washington DC","date":"2024-02-01","yoy":7.2},{"city":"Washington DC","date":"2024-03-01","yoy":6.9},{"city":"Washington DC","date":"2024-04-01","yoy":6.4},{"city":"Washington DC","date":"2024-05-01","yoy":6.0},{"city":"Washington DC","date":"2024-06-01","yoy":5.6},{"city":"Washington DC","date":"2024-07-01","yoy":5.5},{"city":"Washington DC","date":"2024-08-01","yoy":5.6},{"city":"Washington DC","date":"2024-09-01","yoy":5.7},{"city":"Washington DC","date":"2024-10-01","yoy":5.7},{"city":"Washington DC","date":"2024-11-01","yoy":5.5},{"city":"Washington DC","date":"2024-12-01","yoy":5.1},{"city":"Washington DC","date":"2025-01-01","yoy":4.9},{"city":"Washington DC","date":"2025-02-01","yoy":4.6},{"city":"Washington DC","date":"2025-03-01","yoy":4.2},{"city":"Washington DC","date":"2025-04-01","yoy":3.4},{"city":"Washington DC","date":"2025-05-01","yoy":2.5},{"city":"Washington DC","date":"2025-06-01","yoy":1.7},{"city":"Washington DC","date":"2025-07-01","yoy":1.1},{"city":"Washington DC","date":"2025-08-01","yoy":0.7},{"city":"Washington DC","date":"2025-09-01","yoy":0.4},{"city":"Washington DC","date":"2025-10-01","yoy":0.3},{"city":"Washington DC","date":"2025-11-01","yoy":0.3},{"city":"Washington DC","date":"2025-12-01","yoy":0.3},{"city":"Washington DC","date":"2026-01-01","yoy":0.1},{"city":"Washington DC","date":"2026-02-01","yoy":-0.4},
      {"city":"National","date":"2024-01-01","yoy":6.4},{"city":"National","date":"2024-02-01","yoy":6.6},{"city":"National","date":"2024-03-01","yoy":6.6},{"city":"National","date":"2024-04-01","yoy":6.3},{"city":"National","date":"2024-05-01","yoy":5.9},{"city":"National","date":"2024-06-01","yoy":5.4},{"city":"National","date":"2024-07-01","yoy":4.9},{"city":"National","date":"2024-08-01","yoy":4.5},{"city":"National","date":"2024-09-01","yoy":4.0},{"city":"National","date":"2024-10-01","yoy":3.9},{"city":"National","date":"2024-11-01","yoy":4.0},{"city":"National","date":"2024-12-01","yoy":4.3},{"city":"National","date":"2025-01-01","yoy":4.4},{"city":"National","date":"2025-02-01","yoy":3.9},{"city":"National","date":"2025-03-01","yoy":3.4},{"city":"National","date":"2025-04-01","yoy":2.8},{"city":"National","date":"2025-05-01","yoy":2.4},{"city":"National","date":"2025-06-01","yoy":2.0},{"city":"National","date":"2025-07-01","yoy":1.8},{"city":"National","date":"2025-08-01","yoy":1.6},{"city":"National","date":"2025-09-01","yoy":1.5},{"city":"National","date":"2025-10-01","yoy":1.5},{"city":"National","date":"2025-11-01","yoy":1.5},{"city":"National","date":"2025-12-01","yoy":1.4},{"city":"National","date":"2026-01-01","yoy":1.2},{"city":"National","date":"2026-02-01","yoy":0.7}
    ],
    "notes": [
      {"line": 1, "text": "Source: S&P CoreLogic Case-Shiller • Purple cities have home price"},
      {"line": 2, "text": "appreciation vs. February 2025. Orange cities have home price declines"},
      {"line": 3, "text": "from Feb 2025. Dotted lines are top and bottom performing markets. Gray"},
      {"line": 4, "text": "area is below 0%"}
    ],
    "brand": [
      {"name": "COMPASS INTERNATIONAL HOLDINGS"}
    ]
  },
  "spacing": 85,
  "vconcat": [
    {
      "data": {"name": "series"},
      "transform": [
        {"lookup": "city", "from": {"data": {"name": "cities"}, "key": "city", "fields": ["label", "status"]}}
      ],
      "facet": {
        "field": "city",
        "type": "nominal",
        "sort": ["Atlanta", "Boston", "Charlotte", "Chicago", "Cleveland", "Dallas", "Denver", "Detroit", "Las Vegas", "Los Angeles", "Miami", "Minneapolis", "New York", "Phoenix", "Portland", "San Diego", "San Francisco", "Seattle", "Tampa", "Washington DC", "National"],
        "header": {"title": null, "labels": false, "labelFontSize": 1, "labelColor": "transparent", "labelPadding": 0}
      },
      "columns": 7,
      "bounds": "flush",
      "spacing": {"row": 204, "column": 115},
      "spec": {
        "width": 246,
        "height": 173,
        "layer": [
          {
            "transform": [{"aggregate": [{"op": "count", "as": "n"}], "groupby": ["city"]}],
            "mark": {"type": "rect", "color": "#e6e6e6"},
            "encoding": {
              "x": {"datum": {"year": 2024, "month": 1, "date": 1, "utc": true}, "type": "temporal"},
              "x2": {"datum": {"year": 2026, "month": 3, "date": 1, "utc": true}},
              "y": {"datum": 0, "type": "quantitative"},
              "y2": {"datum": -5}
            }
          },
          {
            "transform": [{"aggregate": [{"op": "count", "as": "n"}], "groupby": ["city"]}],
            "mark": {"type": "rule", "color": "#eeeeee", "strokeWidth": 3},
            "encoding": {"y": {"datum": 10, "type": "quantitative"}}
          },
          {
            "transform": [{"aggregate": [{"op": "count", "as": "n"}], "groupby": ["city"]}],
            "mark": {"type": "rule", "color": "#858585", "strokeWidth": 5, "strokeDash": [5, 8.5]},
            "encoding": {"y": {"datum": 5, "type": "quantitative"}}
          },
          {
            "transform": [{"aggregate": [{"op": "count", "as": "n"}], "groupby": ["city"]}],
            "mark": {"type": "rule", "color": "#858585", "strokeWidth": 5, "strokeDash": [5, 8.5]},
            "encoding": {"y": {"datum": -2.2, "type": "quantitative"}}
          },
          {
            "mark": {"type": "line", "interpolate": "monotone", "strokeWidth": 6, "strokeCap": "round", "strokeJoin": "round"},
            "encoding": {
              "x": {
                "field": "date",
                "type": "temporal",
                "title": null,
                "scale": {"type": "utc", "domain": [{"year": 2024, "month": 1, "date": 1, "utc": true}, {"year": 2026, "month": 3, "date": 1, "utc": true}]},
                "axis": {
                  "title": null,
                  "tickCount": {"interval": "month", "step": 3},
                  "format": "%b '%y",
                  "labelExpr": "utcmonth(datum.value) === 0 ? datum.label : ''",
                  "labelAngle": -48,
                  "labelAlign": "right",
                  "labelBaseline": "middle",
                  "labelPadding": 12,
                  "labelFontSize": 40,
                  "labelOverlap": false,
                  "labelFlush": false,
                  "tickSize": 22,
                  "tickWidth": 3,
                  "tickColor": "#e4e4e4",
                  "domain": false,
                  "grid": false
                }
              },
              "y": {
                "field": "yoy",
                "type": "quantitative",
                "title": null,
                "scale": {"domain": [-5, 10], "nice": false, "zero": false},
                "axis": {
                  "title": null,
                  "values": [-5, 0, 5, 10],
                  "labelExpr": "datum.value + '%'",
                  "labelFontSize": 40,
                  "labelPadding": 10,
                  "tickSize": 18,
                  "tickWidth": 3,
                  "tickColor": "#ececec",
                  "domain": true,
                  "domainColor": "#f2f2f2",
                  "domainWidth": 3,
                  "grid": false
                }
              },
              "color": {
                "field": "status",
                "type": "nominal",
                "scale": {"domain": ["Gaining", "Cooling", "National"], "range": ["#1a7ef2", "#9222b4", "#ff6a33"]},
                "legend": null
              }
            }
          },
          {
            "transform": [
              {"window": [{"op": "row_number", "as": "rank"}], "sort": [{"field": "date", "order": "descending"}], "groupby": ["city"]},
              {"filter": "datum.rank === 1"}
            ],
            "mark": {"type": "point", "filled": true, "opacity": 1, "size": 240},
            "encoding": {
              "x": {"field": "date", "type": "temporal", "title": null},
              "y": {"field": "yoy", "type": "quantitative", "title": null},
              "color": {"field": "status", "type": "nominal", "legend": null}
            }
          },
          {
            "transform": [
              {"aggregate": [{"op": "count", "as": "n"}], "groupby": ["city", "label", "status"]},
              {"calculate": "13.6 + 4.0 * (length(split(datum.label, '\\n')) - 1)", "as": "labelAt"}
            ],
            "mark": {"type": "text", "align": "left", "baseline": "bottom", "fontSize": 45, "font": "Lato", "lineBreak": "\n", "lineHeight": 46},
            "encoding": {
              "x": {"datum": {"year": 2024, "month": 1, "date": 1, "utc": true}, "type": "temporal"},
              "y": {"field": "labelAt", "type": "quantitative", "title": null},
              "text": {"field": "label"},
              "color": {"field": "status", "type": "nominal", "legend": null}
            }
          }
        ]
      }
    },
    {
      "width": 2428,
      "height": 176,
      "layer": [
        {
          "data": {"name": "notes"},
          "mark": {"type": "text", "align": "left", "baseline": "middle", "fontSize": 44.5, "font": "Lato", "color": "#111111", "dx": -114},
          "encoding": {
            "x": {"datum": 0, "type": "quantitative", "scale": {"domain": [0, 1]}, "axis": null},
            "y": {"field": "line", "type": "quantitative", "scale": {"domain": [0.5, 4.5], "reverse": true}, "axis": null},
            "text": {"field": "text"}
          }
        },
        {
          "data": {"name": "brand"},
          "mark": {"type": "text", "align": "right", "baseline": "middle", "fontSize": 56, "font": "Liberation Serif", "color": "#444444"},
          "encoding": {
            "x": {"datum": 1, "type": "quantitative", "axis": null},
            "y": {"datum": 2.4, "type": "quantitative", "axis": null},
            "text": {"field": "name"}
          }
        }
      ]
    }
  ],
  "config": {
    "font": "Lato",
    "view": {"stroke": null},
    "axis": {"labelFont": "Lato", "labelColor": "#1a1a1a"},
    "header": {"labels": false, "labelFontSize": 1, "labelColor": "transparent", "labelPadding": 0}
  }
}
